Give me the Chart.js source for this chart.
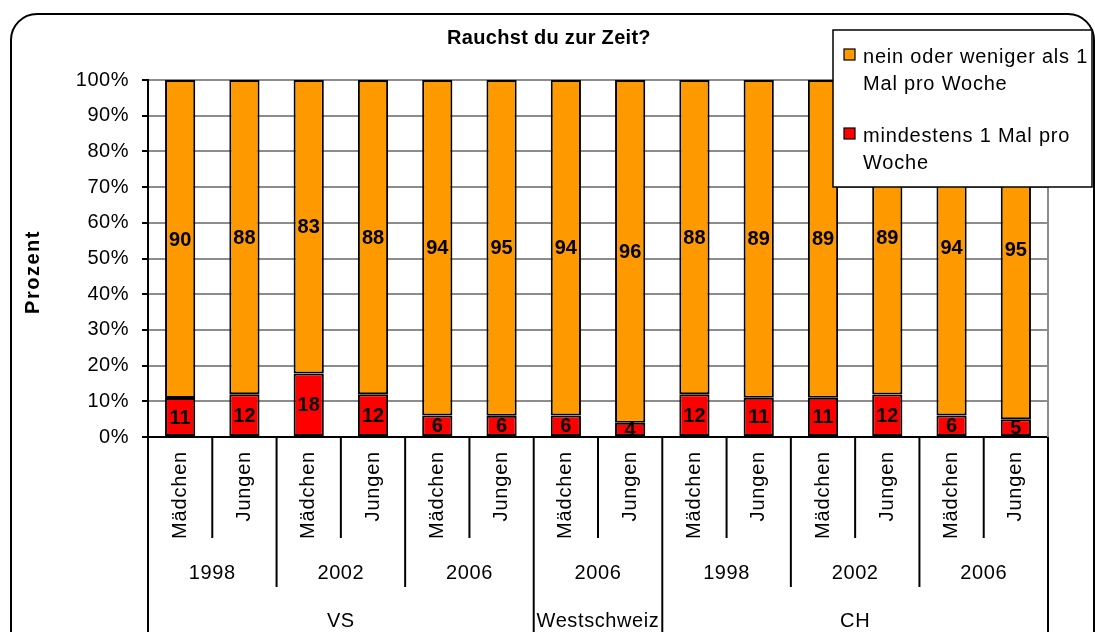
<!DOCTYPE html>
<html>
<head>
<meta charset="utf-8">
<script src="https://cdn.jsdelivr.net/npm/chart.js@4/dist/chart.umd.min.js"></script>
<style>
    html, body { margin: 0; padding: 0; background: #fff; }
    #wrap { width: 1095px; height: 632px; }
</style>
</head>
<body>
<div id="wrap"><canvas id="myChart" width="1095" height="632"></canvas></div>
<script>
const groups = ['Mädchen', 'Jungen', 'Mädchen', 'Jungen', 'Mädchen', 'Jungen', 'Mädchen',
    'Jungen', 'Mädchen', 'Jungen', 'Mädchen', 'Jungen', 'Mädchen', 'Jungen'];
const years = ['1998', '2002', '2006', '2006', '1998', '2002', '2006'];
const regions = ['VS', 'Westschweiz', 'CH'];
const regionYears = [3, 1, 3];   // how many year blocks belong to each region

// raw answers in percent (rounded, so pairs do not always add up to 100)
const smoker = [11, 12, 18, 12, 6, 6, 6, 4, 12, 11, 11, 12, 6, 5];
const nonSmoker = [90, 88, 83, 88, 94, 95, 94, 96, 88, 89, 89, 89, 94, 95];
const yTicks = [0, 10, 20, 30, 40, 50, 60, 70, 80, 90, 100];

const FONT = '"Liberation Sans", Arial, sans-serif';

// 100% stacked: every column is scaled to its own total
function share(arr, i) {
    return arr[i] / (smoker[i] + nonSmoker[i]) * 100;
}

const decor = {
    id: 'decor',
    beforeDraw(chart) {
        const c = chart.ctx;
        c.letterSpacing = '0.5px';
        c.save();
        c.fillStyle = '#fff';
        c.fillRect(0, 0, chart.width, chart.height);
        c.strokeStyle = '#000';
        c.lineWidth = 2;
        c.beginPath();
        c.roundRect(11, 14, 1083, 660, 26);
        c.stroke();
        c.restore();
    },
    afterDatasetsDraw(chart) {
        const c = chart.ctx;
        const area = chart.chartArea;
        const x = chart.scales.x;

        // grey frame on the right of the plot
        c.save();
        c.strokeStyle = '#8c8c8c';
        c.lineWidth = 2;
        c.beginPath();
        c.moveTo(area.right, area.top);
        c.lineTo(area.right, area.bottom);
        c.stroke();

        // value labels in the middle of each segment
        c.fillStyle = '#000';
        c.font = 'bold 20px ' + FONT;
        c.textAlign = 'center';
        c.textBaseline = 'middle';
        c.letterSpacing = '0px';
        chart.data.datasets.forEach((ds, di) => {
            chart.getDatasetMeta(di).data.forEach((bar, i) => {
                c.fillText(String(ds.raw[i]), bar.x, (bar.y + bar.base) / 2 + 1);
            });
        });

        // three-level category axis
        const n = groups.length;
        const step = (area.right - area.left) / n;
        const edge = k => area.left + k * step;
        c.strokeStyle = '#000';
        c.lineWidth = 2;
        c.letterSpacing = '0.8px';
        c.font = '20px ' + FONT;

        groups.forEach((g, i) => {
            c.save();
            c.translate(x.getPixelForValue(i), 451);
            c.rotate(-Math.PI / 2);
            c.textAlign = 'right';
            c.textBaseline = 'middle';
            c.fillText(g, 0, 0);
            c.restore();
        });
        for (let k = 1; k < n; k += 2) {
            c.beginPath();
            c.moveTo(edge(k), area.bottom);
            c.lineTo(edge(k), 538);
            c.stroke();
        }

        c.letterSpacing = '0.6px';
        years.forEach((y, j) => {
            c.textAlign = 'center';
            c.textBaseline = 'middle';
            c.fillText(y, (edge(2 * j) + edge(2 * j + 2)) / 2, 573);
        });

        let pos = 0;
        const regionEdges = [0];
        regions.forEach((r, j) => {
            const from = pos;
            pos += regionYears[j] * 2;
            regionEdges.push(pos);
            for (let k = from + 2; k < pos; k += 2) {
                c.beginPath();
                c.moveTo(edge(k), area.bottom);
                c.lineTo(edge(k), 587);
                c.stroke();
            }
            c.fillText(r, (edge(from) + edge(pos)) / 2, 621);
        });
        regionEdges.forEach(k => {
            c.beginPath();
            c.moveTo(edge(k), area.bottom);
            c.lineTo(edge(k), chart.height);
            c.stroke();
        });
        c.restore();
    },
    afterDraw(chart) {
        const c = chart.ctx;
        c.save();
        c.fillStyle = '#000';

        c.font = 'bold 20px ' + FONT;
        c.textAlign = 'center';
        c.textBaseline = 'middle';
        c.letterSpacing = '0.3px';
        c.fillText('Rauchst du zur Zeit?', 549, 38);

        c.save();
        c.translate(33, 272);
        c.rotate(-Math.PI / 2);
        c.letterSpacing = '1.5px';
        c.fillText('Prozent', 0, 0);
        c.restore();

        // legend box sitting over the plot
        c.fillStyle = '#fff';
        c.fillRect(833, 30, 259, 157);
        c.strokeStyle = '#000';
        c.lineWidth = 1.5;
        c.strokeRect(833, 30, 259, 157);

        const items = [
            {color: '#ff9900', lines: ['nein oder weniger als 1', 'Mal pro Woche'], top: 49},
            {color: '#ff0000', lines: ['mindestens 1 Mal pro', 'Woche'], top: 128}
        ];
        c.font = '20px ' + FONT;
        c.textAlign = 'left';
        c.textBaseline = 'alphabetic';
        c.letterSpacing = '0.8px';
        items.forEach(it => {
            c.fillStyle = it.color;
            c.fillRect(844, it.top, 11, 11);
            c.lineWidth = 1.2;
            c.strokeRect(844, it.top, 11, 11);
            c.fillStyle = '#000';
            it.lines.forEach((t, li) => c.fillText(t, 863, it.top + 14 + li * 27));
        });
        c.restore();
    }
};

const ctx = document.getElementById('myChart');

new Chart(ctx, {
    type: 'bar',
    data: {
        labels: groups,
        datasets: [
            {
                label: 'mindestens 1 Mal pro Woche',
                raw: smoker,
                data: smoker.map((v, i) => share(smoker, i)),
                backgroundColor: '#ff0000',
                borderColor: '#000',
                borderWidth: 2,
                borderSkipped: false,
                barPercentage: 0.47,
                categoryPercentage: 1
            },
            {
                label: 'nein oder weniger als 1 Mal pro Woche',
                raw: nonSmoker,
                data: nonSmoker.map((v, i) => share(nonSmoker, i)),
                backgroundColor: '#ff9900',
                borderColor: '#000',
                borderWidth: 2,
                borderSkipped: false,
                barPercentage: 0.47,
                categoryPercentage: 1
            }
        ]
    },
    options: {
        responsive: false,
        animation: false,
        layout: {
            padding: {left: 0, right: 47, top: 80, bottom: 195}
        },
        plugins: {
            legend: {display: false},
            title: {display: false},
            tooltip: {enabled: false}
        },
        scales: {
            x: {
                stacked: true,
                ticks: {display: false},
                grid: {display: false},
                border: {color: '#000', width: 2},
                afterFit: scale => { scale.height = 0; }
            },
            y: {
                stacked: true,
                min: 0,
                max: 100,
                afterBuildTicks: scale => {
                    scale.ticks = yTicks.map(v => ({value: v}));
                },
                ticks: {
                    callback: v => v + '%',
                    color: '#000',
                    padding: 13,
                    font: {family: FONT, size: 20}
                },
                grid: {
                    color: '#8c8c8c',
                    lineWidth: 2,
                    tickLength: 6,
                    tickColor: '#000'
                },
                border: {color: '#000', width: 2},
                afterFit: scale => { scale.width = 148; }
            }
        }
    },
    plugins: [decor]
});
</script>
</body>
</html>
